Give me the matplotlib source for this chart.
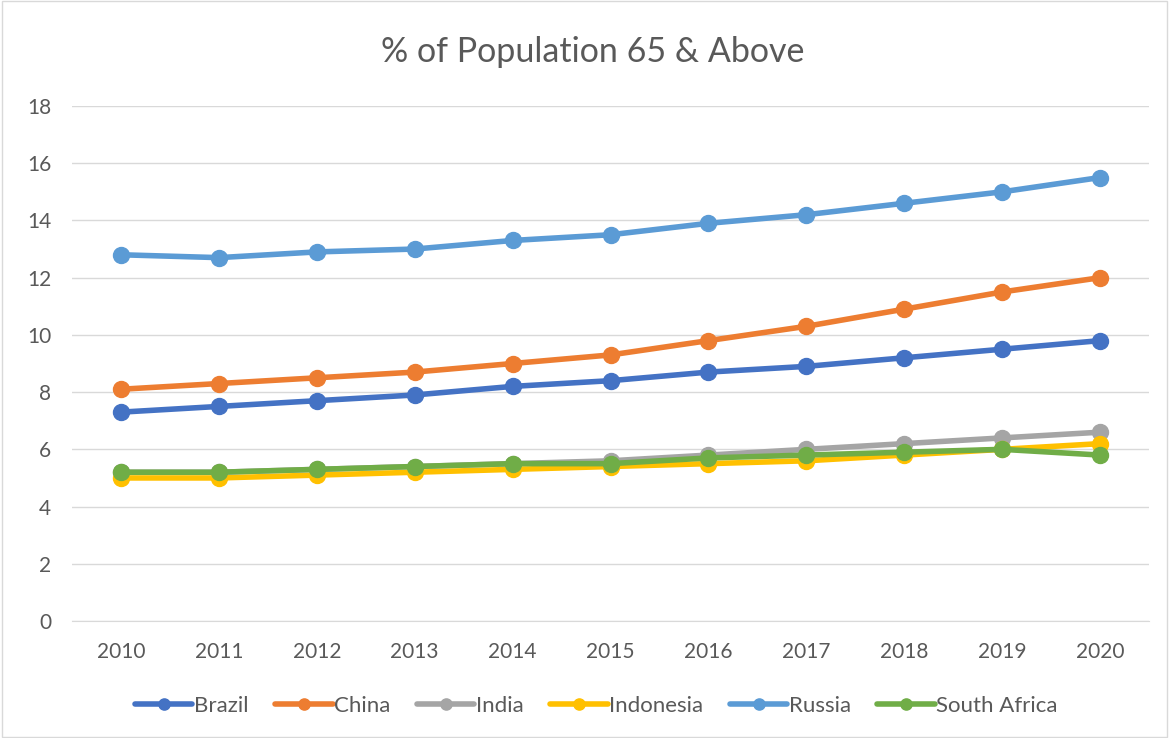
import matplotlib.pyplot as plt
from matplotlib.patches import Rectangle

# Données
annees = [2010, 2011, 2012, 2013, 2014, 2015, 2016, 2017, 2018, 2019, 2020]
brazil = [7.3, 7.5, 7.7, 7.9, 8.2, 8.4, 8.7, 8.9, 9.2, 9.5, 9.8]
china = [8.1, 8.3, 8.5, 8.7, 9.0, 9.3, 9.8, 10.3, 10.9, 11.5, 12.0]
india = [5.2, 5.2, 5.3, 5.4, 5.5, 5.6, 5.8, 6.0, 6.2, 6.4, 6.6]
indonesia = [5.0, 5.0, 5.1, 5.2, 5.3, 5.4, 5.5, 5.6, 5.8, 6.0, 6.2]
russia = [12.8, 12.7, 12.9, 13.0, 13.3, 13.5, 13.9, 14.2, 14.6, 15.0, 15.5]
south_africa = [5.2, 5.2, 5.3, 5.4, 5.5, 5.5, 5.7, 5.8, 5.9, 6.0, 5.8]

series = [("Brazil", brazil, "#4472C4"),
          ("China", china, "#ED7D31"),
          ("India", india, "#A5A5A5"),
          ("Indonesia", indonesia, "#FFC000"),
          ("Russia", russia, "#5B9BD5"),
          ("South Africa", south_africa, "#70AD47")]

plt.rcParams['font.family'] = ['Lato', 'DejaVu Sans']
gris = "#595959"

fig = plt.figure(figsize=(11.69, 7.38), dpi=100)
ax = fig.add_axes([0.0616, 0.1585, 0.9214, 0.6979])

x = list(range(len(annees)))
for nom, valeurs, couleur in series:
    ax.plot(x, valeurs, color=couleur, lw=4, marker='o', ms=11.5,
            label=nom, solid_capstyle='round')

ax.set_xlim(-0.5, len(annees) - 0.5)
ax.set_ylim(0, 18)
ax.set_yticks(range(0, 19, 2))
ax.set_xticks(x)
ax.set_xticklabels([str(a) for a in annees])
ax.grid(axis='y', color="#D9D9D9", lw=1)
ax.set_axisbelow(True)
for cote in ['top', 'right', 'left']:
    ax.spines[cote].set_visible(False)
ax.spines['bottom'].set_color("#D9D9D9")
ax.tick_params(axis='both', length=0, colors=gris, labelsize=15)
ax.tick_params(axis='x', pad=15)
ax.tick_params(axis='y', pad=15)

fig.text(0.507, 0.93, "% of Population 65 & Above", ha='center', va='center',
         fontsize=24.5, color=gris)

fig.legend(loc='center', bbox_to_anchor=(0.51, 0.044), ncol=6, frameon=False,
           fontsize=16, labelcolor=gris, handlelength=2.6, handletextpad=0.05,
           columnspacing=1.2, markerscale=0.7)

# cadre du graphique
fig.patches.append(Rectangle((0.002, 0.002), 0.996, 0.996, transform=fig.transFigure,
                             fill=False, edgecolor="#D9D9D9", lw=1))

plt.savefig("out.png", dpi=100)
